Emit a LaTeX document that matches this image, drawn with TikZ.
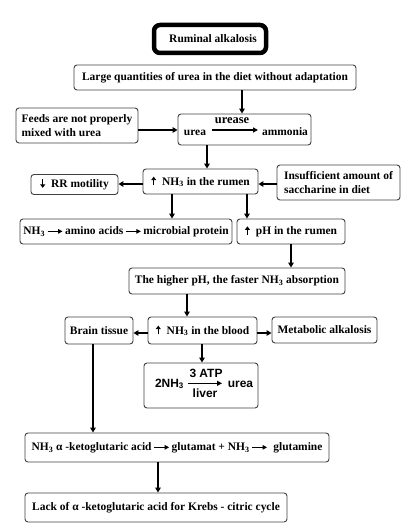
\documentclass[tikz,border=0pt]{standalone}
\usepackage{fontspec}
\setmainfont{Liberation Serif}
\newfontfamily\lsans{Liberation Sans}
\usetikzlibrary{arrows.meta}
\newcommand{\inarr}[1][15]{\tikz[baseline=-0.55ex]\draw[line width=1.3pt,-{Triangle[length=4.5pt,width=4.5pt]}](0pt,0pt)--(#1pt,0pt);}
\newcommand{\uparr}{\tikz[baseline=0pt]\draw[line width=1.3pt,-{Triangle[length=3.5pt,width=5pt]}](0pt,0pt)--(0pt,8.5pt);\hspace{6pt}}
\newcommand{\downarr}{\tikz[baseline=0pt]\draw[line width=1.3pt,-{Triangle[length=3.5pt,width=5pt]}](0pt,8.5pt)--(0pt,0pt);\hspace{6pt}}
\begin{document}
\begin{tikzpicture}[x=1bp,y=-1bp,
  box/.style={draw=black!75, line width=0.9bp, rounded corners=3bp, inner sep=0pt,
    font=\fontsize{11.5}{13.5}\selectfont\bfseries, text=black},
  lbl/.style={inner sep=0pt, font=\fontsize{11.5}{13.5}\selectfont\bfseries},
  sl/.style={inner sep=0pt, font=\lsans\fontsize{12}{14}\selectfont\bfseries},
  arr/.style={line width=2bp,-{Triangle[length=5bp,width=5.5bp]}},
  thinarr/.style={line width=1.5bp,-{Triangle[length=5bp,width=5bp]}}]
\useasboundingbox (0,0) rectangle (412,530);

\node[box, draw=black, line width=4.5bp, rounded corners=6bp, minimum width=112bp, minimum height=28bp] (title) at (210,39) {\hspace*{6bp}Ruminal alkalosis};
\node[box, minimum width=282bp, minimum height=25bp] (large) at (215,77.5) {Large quantities of urea in the diet without adaptation};
\node[box, minimum width=122bp, minimum height=35bp, align=left] (feeds) at (77,125.5) {Feeds are not properly\\mixed with urea};
\node[box, minimum width=133bp, minimum height=31bp] (ureabox) at (244.5,129.5) {};
\node[lbl, anchor=base] (ureaL) at (195,136) {urea};
\node[lbl, anchor=base, font=\fontsize{12.5}{14}\selectfont\bfseries] (ureaseL) at (232,124) {urease};
\node[lbl, anchor=base] (ammL) at (285,136) {ammonia};
\coordinate (ua1) at (212,130);
\coordinate (ua2) at (258,130);
\draw[thinarr] (ua1) -- (ua2);

\node[box, minimum width=115bp, minimum height=25bp] (rumen) at (200.5,181.5) {\uparr NH\textsubscript{3} in the rumen};
\node[box, minimum width=87bp, minimum height=20bp] (rr) at (74.5,184.5) {\downarr RR motility};
\node[box, minimum width=123bp, minimum height=35bp, align=left] (insuff) at (338.5,182.5) {Insufficient amount of\\saccharine in diet};
\node[box, minimum width=212bp, minimum height=25bp] (micro) at (126,231.5) {NH\textsubscript{3}\,\inarr\,amino acids\,\inarr\,microbial protein};
\node[box, minimum width=108bp, minimum height=25bp] (ph) at (291,231.5) {\uparr pH in the rumen};
\node[box, minimum width=216bp, minimum height=26bp] (higher) at (237,281) {The higher pH, the faster NH\textsubscript{3} absorption};
\node[box, minimum width=109bp, minimum height=27bp] (blood) at (202.5,330.5) {\uparr NH\textsubscript{3} in the blood};
\node[box, minimum width=68bp, minimum height=27bp] (brain) at (99,330.5) {Brain tissue};
\node[box, minimum width=105bp, minimum height=26bp] (metab) at (324.5,330) {Metabolic alkalosis};
\node[box, minimum width=114bp, minimum height=45bp] (liver) at (201,385.5) {};
\node[sl, anchor=base] (nh2) at (169.5,387) {2NH\textsubscript{3}};
\node[sl, anchor=base] (atp) at (206,377) {3 ATP};
\node[sl, anchor=base] (liv) at (205,397) {liver};
\node[sl, anchor=base] (ureaR) at (240.5,387) {urea};
\coordinate (la1) at (188,383.3);
\coordinate (la2) at (222,383.3);
\draw[thinarr] (la1) -- (la2);
\node[box, minimum width=304bp, minimum height=29bp] (glut) at (177,447.5) {NH\textsubscript{3} α -ketoglutaric acid\,\inarr\,glutamat + NH\textsubscript{3}\,\inarr\ \ glutamine};
\node[box, minimum width=262bp, minimum height=29bp] (lack) at (156,507.5) {Lack of α -ketoglutaric acid for Krebs - citric cycle};

% helper coordinates for connector positions
\coordinate (xA) at (242,0);
\coordinate (yF) at (0,130);
\coordinate (xU) at (207,0);
\coordinate (yR) at (0,184);
\coordinate (xM) at (172,0);
\coordinate (xP) at (247,0);
\coordinate (xH) at (291,0);
\coordinate (xB) at (187,0);
\coordinate (yB) at (0,333);
\coordinate (xL) at (202,0);
\coordinate (xBr) at (93,0);
\coordinate (xG) at (158,0);

\draw[arr] (large.south -| xA) -- (ureabox.north -| xA);
\draw[arr] (feeds.east |- yF) -- (ureabox.west |- yF);
\draw[arr] (ureabox.south -| xU) -- (rumen.north -| xU);
\draw[arr] (rumen.west |- yR) -- (rr.east |- yR);
\draw[arr] (insuff.west |- yR) -- (rumen.east |- yR);
\draw[arr] (rumen.south -| xM) -- (micro.north -| xM);
\draw[arr] (rumen.south -| xP) -- (ph.north -| xP);
\draw[arr] (ph.south -| xH) -- (higher.north -| xH);
\draw[arr] (higher.south -| xB) -- (blood.north -| xB);
\draw[arr] (blood.west |- yB) -- (brain.east |- yB);
\draw[arr] (blood.east |- yB) -- (metab.west |- yB);
\draw[arr] (blood.south -| xL) -- (liver.north -| xL);
\draw[arr] (brain.south -| xBr) -- (glut.north -| xBr);
\draw[arr] (glut.south -| xG) -- (lack.north -| xG);
\end{tikzpicture}
\end{document}
